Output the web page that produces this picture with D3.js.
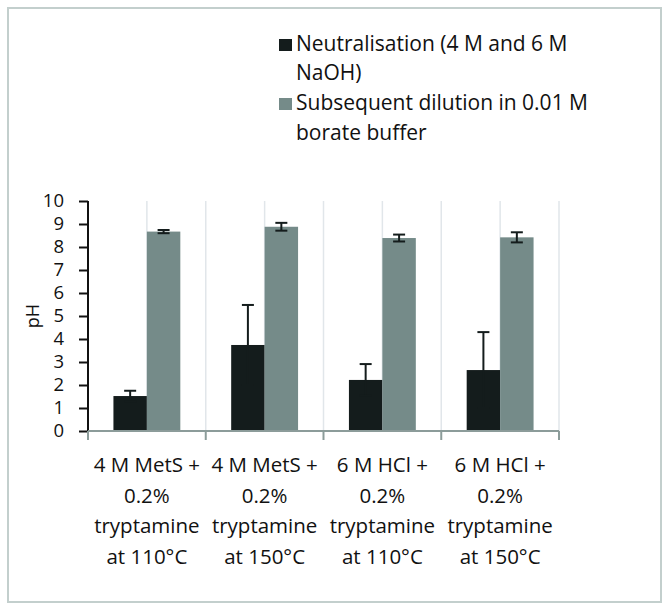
<!DOCTYPE html>
<html>
<head>
<meta charset="utf-8">
<script src="https://cdn.jsdelivr.net/npm/d3@7"></script>
<style>
  body { margin: 0; background: #fff; }
  text { font-family: "Open Sans", sans-serif; fill: #111; }
</style>
</head>
<body>
<svg id="chart" width="670" height="611"></svg>
<script>
const categories = [
  ["4 M MetS +", "0.2%", "tryptamine", "at 110°C"],
  ["4 M MetS +", "0.2%", "tryptamine", "at 150°C"],
  ["6 M HCl +", "0.2%", "tryptamine", "at 110°C"],
  ["6 M HCl +", "0.2%", "tryptamine", "at 150°C"]
];
const seriesNames = ["Neutralisation (4 M and 6 M NaOH)", "Subsequent dilution in 0.01 M borate buffer"];
const legendLines = [["Neutralisation (4 M and 6 M", "NaOH)"], ["Subsequent dilution in 0.01 M", "borate buffer"]];
const neutralisation = [1.52, 3.74, 2.22, 2.65];
const neutralisationErr = [0.23, 1.74, 0.69, 1.65];
const dilution = [8.67, 8.88, 8.39, 8.42];
const dilutionErr = [0.07, 0.17, 0.15, 0.22];
const yTicks = [0, 1, 2, 3, 4, 5, 6, 7, 8, 9, 10];
const colors = ["#141c1c", "#758b89"];

(function () {
const svg = d3.select("#chart");
svg.append("rect").attr("x", 8).attr("y", 8).attr("width", 653).attr("height", 594)
  .attr("fill", "#fff").attr("stroke", "#c3cfcd").attr("stroke-width", 2);

const pLeft = 88, pRight = 559, pTop = 201, pBottom = 431;
const x = d3.scaleBand().domain(d3.range(categories.length)).range([pLeft, pRight]).paddingInner(0).paddingOuter(0);
const y = d3.scaleLinear().domain([0, 10]).range([pBottom, pTop]);
const bw = x.bandwidth() * 0.284;

// vertical gridlines at category centers and boundaries
const gridXs = [];
categories.forEach((c, i) => {
  gridXs.push(x(i) + x.bandwidth() / 2);
  if (i > 0) gridXs.push(x(i));
});
gridXs.push(pRight);
svg.append("g").selectAll("line").data(gridXs).join("line")
  .attr("x1", d => d).attr("x2", d => d).attr("y1", pTop).attr("y2", pBottom)
  .attr("stroke", "#e1e6ea").attr("stroke-width", 1.5);

const series = [
  { vals: neutralisation, err: neutralisationErr, off: -1 },
  { vals: dilution, err: dilutionErr, off: 0 }
];

series.forEach((s, si) => {
  const g = svg.append("g");
  g.selectAll("rect").data(s.vals).join("rect")
    .attr("x", (d, i) => x(i) + x.bandwidth() / 2 + s.off * bw)
    .attr("width", bw)
    .attr("y", d => y(d))
    .attr("height", d => pBottom - y(d))
    .attr("fill", colors[si]);
});

// error bars
series.forEach((s, si) => {
  const g = svg.append("g").attr("stroke", "#141c1c").attr("stroke-width", 2);
  s.vals.forEach((v, i) => {
    const cx = x(i) + x.bandwidth() / 2 + s.off * bw + bw / 2;
    const hi = y(v + s.err[i]), lo = y(v - s.err[i]);
    g.append("line").attr("x1", cx).attr("x2", cx).attr("y1", hi).attr("y2", lo);
    g.append("line").attr("x1", cx - 6).attr("x2", cx + 6).attr("y1", hi).attr("y2", hi);
    g.append("line").attr("x1", cx - 6).attr("x2", cx + 6).attr("y1", lo).attr("y2", lo);
  });
});

// y axis
const yAxis = svg.append("g").attr("transform", `translate(${pLeft},0)`)
  .call(d3.axisLeft(y).tickValues(yTicks).tickSize(9).tickPadding(15).tickFormat(d3.format("d")));
yAxis.select(".domain").attr("stroke", "#111").attr("stroke-width", 2).attr("d", `M0,${pTop}V${pBottom}`);
yAxis.selectAll(".tick line").attr("stroke", "#111").attr("stroke-width", 2);
yAxis.selectAll(".tick text").attr("font-size", 18.5).attr("font-family", "Liberation Sans").attr("fill", "#111");

// x axis
const xg = svg.append("g");
xg.append("line").attr("x1", pLeft).attr("x2", pRight).attr("y1", pBottom).attr("y2", pBottom)
  .attr("stroke", "#8c9c9a").attr("stroke-width", 2);
const bounds = categories.map((c, i) => x(i)).concat([pRight]);
xg.selectAll("line.tk").data(bounds).join("line").attr("class", "tk")
  .attr("x1", d => d).attr("x2", d => d).attr("y1", pBottom).attr("y2", pBottom + 9)
  .attr("stroke", "#8c9c9a").attr("stroke-width", 2);

categories.forEach((lines, i) => {
  const t = svg.append("text").attr("text-anchor", "middle")
    .attr("font-size", 20.5);
  lines.forEach((ln, k) => {
    t.append("tspan").attr("x", x(i) + x.bandwidth() / 2).attr("y", 472 + k * 30.5).text(ln);
  });
});

// y axis title
svg.append("text").attr("transform", "translate(39,316) rotate(-90)")
  .attr("text-anchor", "middle").attr("font-size", 18).text("pH");

// legend
const legY = [[51, 80], [110, 140]];
legendLines.forEach((lines, si) => {
  svg.append("rect").attr("x", 279).attr("y", legY[si][0] - 12).attr("width", 13).attr("height", 12)
    .attr("fill", colors[si]);
  const t = svg.append("text").attr("font-size", 21);
  lines.forEach((ln, k) => {
    t.append("tspan").attr("x", 296).attr("y", legY[si][k]).text(ln);
  });
});
})();
</script>
</body>
</html>
